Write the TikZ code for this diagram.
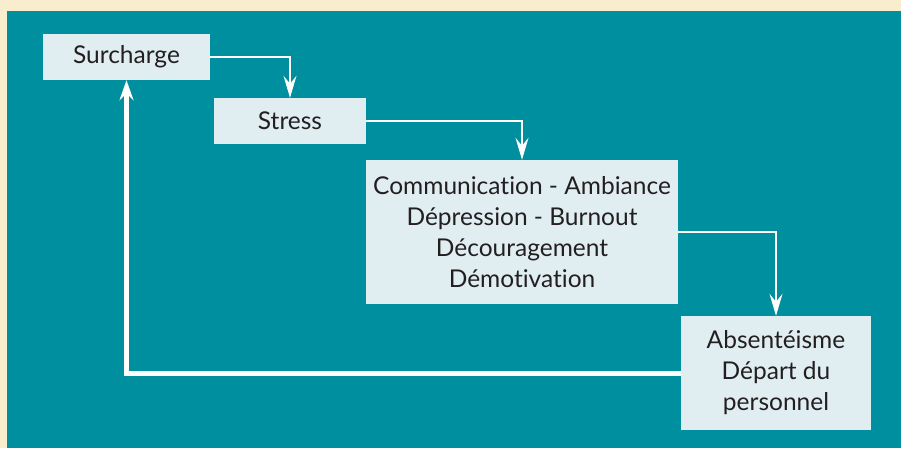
\documentclass[tikz,border=0pt]{standalone}
\usepackage{fontspec}
\setmainfont[Ligatures=NoCommon]{Lato}
\usepackage{xcolor}
\usetikzlibrary{arrows.meta}
\definecolor{cream}{HTML}{F8EDCD}
\definecolor{teal}{HTML}{008F9E}
\definecolor{boxblue}{HTML}{E0EEF2}
\definecolor{ink}{HTML}{231F20}

\begin{document}
\begin{tikzpicture}
    [x=1pt,y=-1pt,
    stage/.style={fill=boxblue,text=ink,inner sep=0pt,align=center,
        font=\fontsize{24.5}{31}\selectfont},
    link/.style={draw=white,line width=2pt,
        -{Stealth[length=22pt,width=13pt,inset=8pt]}},
    back/.style={draw=white,line width=5pt,
        -{Stealth[length=20pt,width=14pt,inset=7pt]}}]
    %background
    \fill[cream] (0,0) rectangle (901,448);
    \fill[teal] (7,11) rectangle (901,448);
    \useasboundingbox (0,0) rectangle (901,448);
    %stages
    \node[stage,minimum width=167pt,minimum height=46pt] (surcharge) at (126.5,57) {Surcharge};
    \node[stage,minimum width=152pt,minimum height=46pt] (stress) at (290,121) {Stress};
    \node[stage,minimum width=312pt,minimum height=144pt] (effets) at (522,232)
    {Communication - Ambiance\\Dépression - Burnout\\Découragement\\Démotivation};
    \node[stage,minimum width=190pt,minimum height=114pt] (depart) at (776,373)
    {Absentéisme\\Départ du\\personnel};
    %arrows
    \draw[link] (surcharge.east) -| (stress.north);
    \draw[link] (stress.east) -| (effets.north);
    \draw[link] (effets.east) -| (depart.north);
    \draw[back] (depart.west) -| (surcharge.south);
\end{tikzpicture}
\end{document}
